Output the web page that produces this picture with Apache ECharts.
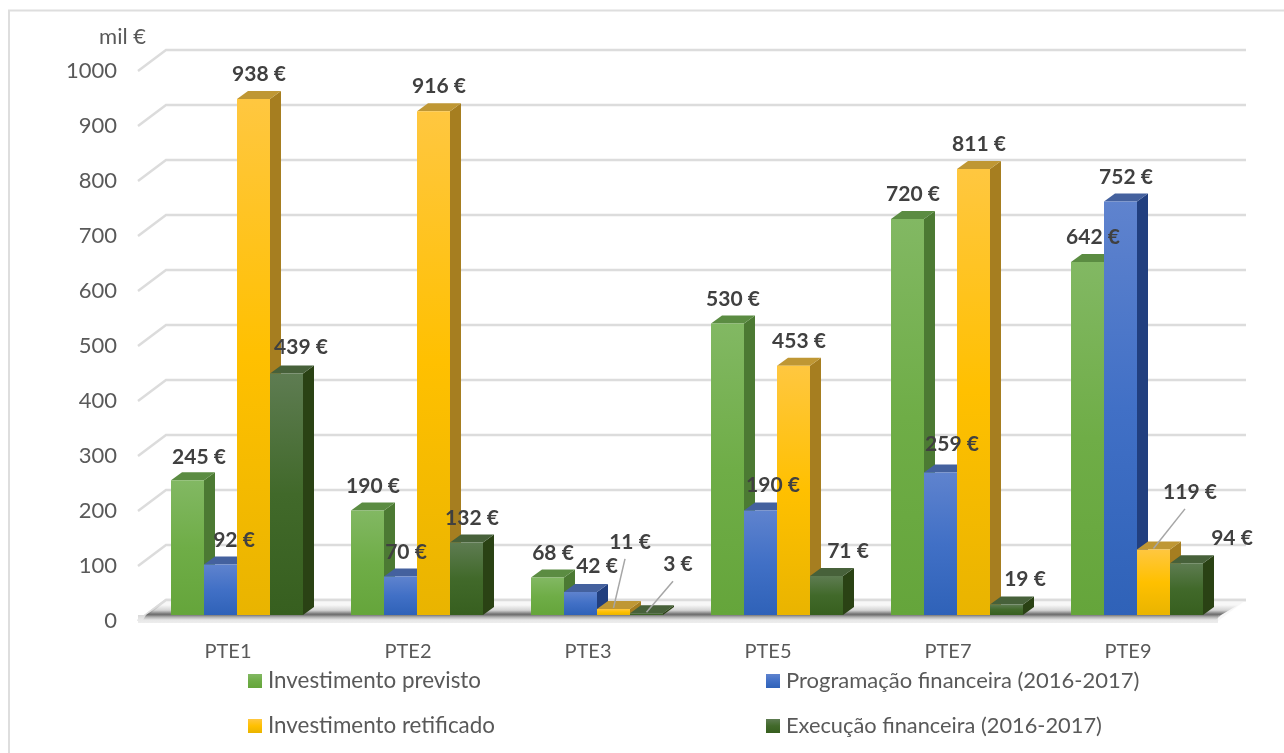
<!DOCTYPE html>
<html>
<head>
<meta charset="utf-8">
<title>Investimento por PTE</title>
<script src="https://cdn.jsdelivr.net/npm/echarts@6/dist/echarts.min.js"></script>
<style>
  html, body { margin: 0; padding: 0; background: #fff; }
  #chart { width: 1284px; height: 753px; }
</style>
</head>
<body>
<div id="chart"></div>
<script>
// Dados (mil €)
const categories = ['PTE1', 'PTE2', 'PTE3', 'PTE5', 'PTE7', 'PTE9'];
const yTicks = [0, 100, 200, 300, 400, 500, 600, 700, 800, 900, 1000];
const investimentoPrevisto = [245, 190, 68, 530, 720, 642];
const programacaoFinanceira = [92, 70, 42, 190, 259, 752];
const investimentoRetificado = [938, 916, 11, 453, 811, 119];
const execucaoFinanceira = [439, 132, 3, 71, 19, 94];

const FONT = 'Lato, "Open Sans", sans-serif';
const BAR_W = 33;
const BAND = 180;
const DEPTH_X = 11, DEPTH_Y = 8;   // lado 3D de cada barra
const PLANE_X = 9, PLANE_Y = 6;    // plano das barras em relação ao eixo
const WALL_X = 28, WALL_Y = 21;    // parede de fundo

// deslocamento das etiquetas em relação ao topo da barra: [série, categoria] -> [dx, dy, linha de chamada]
const DEFAULT_SHIFT = [5.5, -24.5];
const labelShift = {
  '0-0': [11.5, -23.5],
  '1-0': [13.5, -24.5],
  '3-0': [14.5, -26],
  '1-2': [16.5, -26],
  '2-2': [16.5, -67, true],
  '3-2': [31.5, -49, true],
  '1-3': [12.5, -25],
  '3-3': [21.5, -25],
  '1-4': [11.5, -28],
  '3-4': [18.5, -25.6],
  '2-5': [36.5, -57.7, true],
  '3-5': [45.5, -25]
};

function grad(stops) {
  return new echarts.graphic.LinearGradient(0, 0, 0, 1, stops.map((c, i) => ({ offset: i / (stops.length - 1), color: c })));
}

const seriesDefs = [
  { name: 'Investimento previsto', values: investimentoPrevisto, front: ['#82b863', '#6fad47', '#65a53b'], side: '#4c7a33', top: '#5b8c42' },
  { name: 'Programação financeira (2016-2017)', values: programacaoFinanceira, front: ['#5f83ce', '#4170c6', '#2f62b8'], side: '#213f7f', top: '#44619e' },
  { name: 'Investimento retificado', values: investimentoRetificado, front: ['#ffc740', '#ffc000', '#e9b400'], side: '#a67e20', top: '#bf9734' },
  { name: 'Execução financeira (2016-2017)', values: execucaoFinanceira, front: ['#5e7c52', '#41692a', '#375f1f'], side: '#2a4214', top: '#47613a' }
];

const chart = echarts.init(document.getElementById('chart'), null, { renderer: 'canvas' });

function renderBar(seriesIndex, def) {
  return function (params, api) {
    const c = api.value(0);
    const v = api.value(1);
    const base = api.coord([c, 0]);
    const head = api.coord([c, v]);
    const scale = api.size([1, 0])[0] / BAND;
    const w = BAR_W * scale;
    const x0 = base[0] + PLANE_X - 2 * w + seriesIndex * w;
    const x1 = x0 + w;
    const y0 = base[1] - PLANE_Y;
    const yT = head[1] - PLANE_Y;
    const children = [
      { type: 'polygon', shape: { points: [[x1, yT], [x1 + DEPTH_X, yT - DEPTH_Y], [x1 + DEPTH_X, y0 - DEPTH_Y], [x1, y0]] }, style: { fill: def.side } },
      { type: 'polygon', shape: { points: [[x0, yT], [x0 + DEPTH_X, yT - DEPTH_Y], [x1 + DEPTH_X, yT - DEPTH_Y], [x1, yT]] }, style: { fill: def.top } },
      { type: 'rect', shape: { x: x0, y: yT, width: w, height: y0 - yT }, style: { fill: grad(def.front) } }
    ];
    const shift = labelShift[seriesIndex + '-' + c] || DEFAULT_SHIFT;
    const lx = x0 + w / 2 + shift[0];
    const ly = yT + shift[1];
    if (shift[2]) {
      children.push({
        type: 'line', z2: 90,
        shape: { x1: x0 + w / 2, y1: yT - 1, x2: lx - 5, y2: ly + 17 },
        style: { stroke: '#a6a6a6', lineWidth: 1.5 }
      });
    }
    children.push({
      type: 'text', z2: 100, x: lx, y: ly,
      style: { text: v + ' €', fill: '#404040', font: 'bold 21px ' + FONT, align: 'center', verticalAlign: 'middle' }
    });
    return { type: 'group', children: children };
  };
}

// parede de fundo, linhas da grelha e chão
function renderWall(params, api) {
  const v = api.value(0);
  const rect = params.coordSys;
  const p = api.coord([0, v]);
  const left = rect.x;
  const right = rect.x + rect.width;
  const y = p[1];
  const line = { stroke: '#dcdcdc', lineWidth: 2.4, fill: null };
  const children = [
    { type: 'polyline', shape: { points: [[left, y], [left + WALL_X, y - WALL_Y], [right + WALL_X, y - WALL_Y]] }, style: line }
  ];
  if (v === 0) {
    children.push({ type: 'polygon', shape: { points: [[left, y], [left + WALL_X, y - WALL_Y], [right + WALL_X, y - WALL_Y], [right, y]] }, style: { fill: '#f7f7f7' } });
    children.push({ type: 'polyline', shape: { points: [[left, y], [left + WALL_X, y - WALL_Y], [right + WALL_X, y - WALL_Y]] }, style: line });
    children.push({ type: 'rect', shape: { x: left, y: y - 6, width: rect.width, height: 8 }, style: { fill: grad(['#d8d8d8', '#e6e6e6', '#ededed']) } });
    children.push({
      type: 'polygon',
      shape: { points: [[left + 8, y - 6], [left + WALL_X - 6, y - 16], [right + WALL_X - 8, y - 16], [right + 3, y - 6], [right - 2, y - 1], [left + 5, y - 1]] },
      style: { fill: new echarts.graphic.LinearGradient(0, 0, 0, 1, [
        { offset: 0, color: 'rgba(70,70,70,0)' },
        { offset: 0.35, color: 'rgba(70,70,70,0.2)' },
        { offset: 0.62, color: 'rgba(60,60,60,0.75)' },
        { offset: 0.8, color: 'rgba(70,70,70,0.3)' },
        { offset: 1, color: 'rgba(70,70,70,0)' }
      ]) }
    });
  }
  return { type: 'group', children: children };
}

const barSeries = seriesDefs.map((def, i) => ({
  name: def.name,
  type: 'custom',
  coordinateSystem: 'cartesian2d',
  encode: { x: 0, y: 1 },
  itemStyle: { color: def.front[1] },
  renderItem: renderBar(i, def),
  data: def.values.map((v, c) => [c, v]),
  z: 3
}));

function legendItem(def, left, top, size) {
  return {
    left: left, top: top, orient: 'horizontal', icon: 'rect',
    itemWidth: 14, itemHeight: 14, itemGap: 0,
    data: [{ name: def.name, itemStyle: { color: grad(def.front) } }],
    selectedMode: false,
    textStyle: { fontFamily: FONT, fontSize: size, color: '#595959', padding: [0, 0, 0, 1] }
  };
}

chart.setOption({
  animation: false,
  backgroundColor: '#fff',
  grid: { left: 138, top: 71, width: 1080, height: 550 },
  xAxis: {
    type: 'category',
    data: categories,
    axisLine: { show: false },
    axisTick: { show: false },
    axisLabel: { margin: 21, fontFamily: FONT, fontSize: 20, color: '#595959' }
  },
  yAxis: {
    type: 'value',
    min: 0,
    max: 1000,
    interval: 100,
    axisLine: { show: false },
    axisTick: { show: false },
    splitLine: { show: false },
    axisLabel: { margin: 21, fontFamily: FONT, fontSize: 22, color: '#595959', padding: [6, 0, 0, 0], formatter: v => String(v) }
  },
  legend: [
    legendItem(seriesDefs[0], 243, 665, 22.4),
    legendItem(seriesDefs[1], 761, 665, 22),
    legendItem(seriesDefs[2], 243, 710, 22.4),
    legendItem(seriesDefs[3], 761, 710, 21.8)
  ],
  graphic: [
    { type: 'rect', z: -1, shape: { x: 9, y: 10.5, width: 1290, height: 760 }, style: { fill: 'none', stroke: '#dedede', lineWidth: 2 } },
    { type: 'text', x: 146, y: 37, style: { text: 'mil €', fill: '#595959', font: '22px ' + FONT, align: 'right', verticalAlign: 'middle' } }
  ],
  series: [
    {
      name: 'grelha',
      type: 'custom',
      coordinateSystem: 'cartesian2d',
      encode: { y: 0 },
      renderItem: renderWall,
      data: yTicks.map(t => [t]),
      silent: true,
      z: 1
    }
  ].concat(barSeries)
});
</script>
</body>
</html>
